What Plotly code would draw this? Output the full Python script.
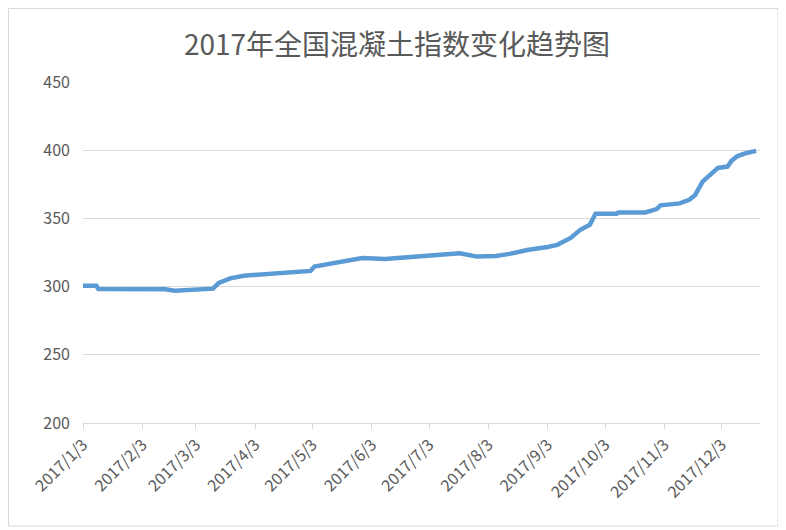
import plotly.graph_objects as go

dates = [
    "2017-01-03", "2017-01-10", "2017-01-11", "2017-01-25", "2017-02-15", "2017-02-20",
    "2017-03-01", "2017-03-12", "2017-03-15", "2017-03-21", "2017-03-28", "2017-04-03",
    "2017-04-15", "2017-05-02", "2017-05-04", "2017-05-18", "2017-05-29", "2017-06-10",
    "2017-06-24", "2017-07-08", "2017-07-19", "2017-07-28", "2017-08-07", "2017-08-14",
    "2017-08-24", "2017-09-03", "2017-09-08", "2017-09-15", "2017-09-20", "2017-09-25",
    "2017-09-28", "2017-10-09", "2017-10-10", "2017-10-24", "2017-10-30", "2017-11-01",
    "2017-11-11", "2017-11-16", "2017-11-19", "2017-11-23", "2017-11-28", "2017-12-01",
    "2017-12-06", "2017-12-08", "2017-12-11", "2017-12-16", "2017-12-21",
]
values = [
    300.7, 300.7, 298.3, 298.2, 298.0, 297.0,
    297.8, 298.5, 302.7, 306.0, 308.0, 308.5,
    309.5, 311.5, 314.7, 318.4, 321.0, 320.3,
    322.0, 323.0, 324.5, 322.0, 322.5, 324.0,
    327.0, 329.0, 330.6, 335.7, 341.6, 345.3,
    353.4, 353.4, 354.3, 354.3, 356.8, 359.6,
    361.0, 363.6, 367.0, 377.0, 383.5, 387.0,
    388.0, 392.0, 395.5, 398.0, 399.5,
]
tick_dates = ["2017-%02d-03" % m for m in range(1, 13)]
tick_labels = ["2017/%d/3" % m for m in range(1, 13)]
title_text = "2017年全国混凝土指数变化趋势图"

# page has an 8px body margin, so the figure is sized 8px smaller
W, H = 778, 522
L, T, R, B = 75, 74, 26, 107
PW, PH = W - L - R, H - T - B

fig = go.Figure()
fig.add_trace(go.Scatter(
    x=dates, y=values, mode="lines",
    line=dict(color="#5B9BD5", width=4.5),
    showlegend=False, hoverinfo="x+y",
))

grey = "#595959"
fig.update_layout(
    width=W, height=H,
    margin=dict(l=L, r=R, t=T, b=B),
    paper_bgcolor="white", plot_bgcolor="white",
    font=dict(family="Noto Sans CJK SC, Noto Sans, sans-serif", color=grey, size=15),
    title=dict(text=title_text, x=0.5, xanchor="center", y=1 - 37 / H, yanchor="middle",
               font=dict(size=28, color=grey)),
    xaxis=dict(
        type="date", range=["2017-01-03", "2017-12-23"],
        tickmode="array", tickvals=tick_dates, ticktext=tick_labels,
        tickangle=-45, ticks="outside", ticklen=5, tickcolor="#D9D9D9",
        showgrid=False, showline=True, linecolor="#D9D9D9", linewidth=1,
        zeroline=False, tickfont=dict(size=16, color=grey),
    ),
    yaxis=dict(
        range=[200, 450], tickvals=[200, 250, 300, 350, 400, 450],
        showgrid=True, gridcolor="#D9D9D9", gridwidth=1,
        showline=False, zeroline=False, ticks="", ticklen=0,
        ticklabelstandoff=12,
        tickfont=dict(size=16, color=grey),
    ),
    shapes=[dict(
        type="rect", xref="paper", yref="paper",
        x0=(0.5 - L) / PW, x1=(770 - L) / PW,
        y0=-(518 - (T + PH)) / PH, y1=1 + (T - 0.5) / PH,
        line=dict(color="#D9D9D9", width=1), fillcolor="rgba(0,0,0,0)", layer="below",
    )],
)

fig.write_html("out.html")
